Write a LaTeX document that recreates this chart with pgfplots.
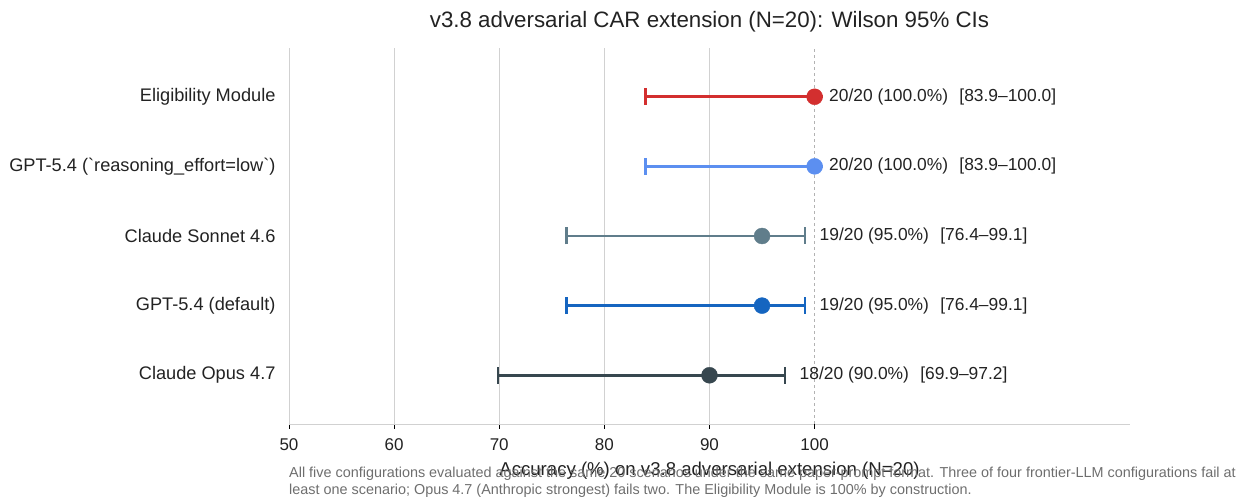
\documentclass[border=0pt]{standalone}
\usepackage{fontspec}
\setmainfont{Liberation Sans}
\usepackage{pgfplots}
\pgfplotsset{compat=1.18}
\definecolor{cred}{HTML}{D32F2F}
\definecolor{clblue}{HTML}{5C8FF0}
\definecolor{cslate}{HTML}{607D8B}
\definecolor{cblue}{HTML}{1565C0}
\definecolor{cdark}{HTML}{37474F}
\definecolor{ctext}{HTML}{222222}
\definecolor{cfoot}{HTML}{6E6E6E}
\pgfplotsset{
  ci/.style={only marks, solid, mark=*, mark size=8pt, color=#1, mark options={solid, fill=#1, draw=#1},
    error bars/.cd, x dir=both, x explicit, error mark=|,
    error bar style={solid, line width=2.8pt, color=#1},
    error mark options={solid, line width=2.6pt, mark size=8.5pt, color=#1}},
  lab/.style={draw=none, mark=none, only marks, nodes near coords={#1},
    nodes near coords style={anchor=west, xshift=11pt, font=\fontsize{17.4}{20}\selectfont, text=ctext}}
}
\begin{document}
\begin{tikzpicture}
\useasboundingbox (0,0) rectangle (1245pt,497pt);
\begin{axis}[
  at={(289pt,73pt)}, anchor=south west,
  scale only axis, width=841pt, height=376pt,
  xmin=50, xmax=130, ymin=-0.7, ymax=4.7,
  axis x line*=bottom, axis y line*=left,
  axis line style={draw=black!18, line width=0.9pt},
  xtick={50,60,70,80,90}, extra x ticks={100},
  extra x tick style={grid style={draw=black!30, dashed, line width=0.9pt}},
  xmajorgrids, grid style={draw=black!18, line width=0.9pt},
  tick align=outside, major tick length=5pt,
  xtick style={draw=black, line width=0.9pt},
  ytick={0,1,2,3,4},
  yticklabels={Claude Opus 4.7, GPT-5.4 (default), Claude Sonnet 4.6,
    GPT-5.4 (\textasciigrave reasoning\_effort=low\textasciigrave), Eligibility Module},
  ytick style={draw=none},
  yticklabel style={font=\fontsize{18.2}{21}\selectfont, text=ctext, xshift=-5pt},
  xticklabel style={font=\fontsize{17}{20}\selectfont, text=ctext, anchor=base, yshift=-22pt},
  /pgf/number format/assume math mode=true,
  title={v3.8 adversarial CAR extension (N=20): Wilson 95\% CIs},
  title style={font=\fontsize{22.3}{26}\selectfont, text=ctext, at={(axis description cs:0.5,1)}, anchor=base, yshift=14pt},
  xlabel={Accuracy (\%) on v3.8 adversarial extension (N=20)},
  xlabel style={font=\fontsize{18.6}{21}\selectfont, text=ctext, at={(axis description cs:0.5,0)}, anchor=base, yshift=-52pt},
  clip=false,
]
% Eligibility Module: 100.0 [83.9, 100.0]
\addplot[ci=cred] coordinates {(100,4) += (0,0) -= (16.1,0)};
\addplot[lab={20/20 (100.0\%)\hspace{0.65em}[83.9--100.0]}] coordinates {(100,4)};
% GPT-5.4 low: 100.0 [83.9, 100.0]
\addplot[ci=clblue] coordinates {(100,3) += (0,0) -= (16.1,0)};
\addplot[lab={20/20 (100.0\%)\hspace{0.65em}[83.9--100.0]}] coordinates {(100,3)};
% Claude Sonnet 4.6: 95.0 [76.4, 99.1]
\addplot[ci=cslate] coordinates {(95,2) += (4.1,0) -= (18.6,0)};
\addplot[lab={19/20 (95.0\%)\hspace{0.65em}[76.4--99.1]}] coordinates {(99.1,2)};
% GPT-5.4 default: 95.0 [76.4, 99.1]
\addplot[ci=cblue] coordinates {(95,1) += (4.1,0) -= (18.6,0)};
\addplot[lab={19/20 (95.0\%)\hspace{0.65em}[76.4--99.1]}] coordinates {(99.1,1)};
% Claude Opus 4.7: 90.0 [69.9, 97.2]
\addplot[ci=cdark] coordinates {(90,0) += (7.2,0) -= (20.1,0)};
\addplot[lab={18/20 (90.0\%)\hspace{0.65em}[69.9--97.2]}] coordinates {(97.2,0)};
\end{axis}
\node[anchor=base west, font=\fontsize{14.4}{17}\selectfont, text=cfoot, inner sep=0pt] at (289pt,19pt)
  {All five configurations evaluated against the same 20 scenarios under the same paper-prompt format. Three of four frontier-LLM configurations fail at};
\node[anchor=base west, font=\fontsize{14.4}{17}\selectfont, text=cfoot, inner sep=0pt] at (289pt,2.5pt)
  {least one scenario; Opus 4.7 (Anthropic strongest) fails two. The Eligibility Module is 100\% by construction.};
\end{tikzpicture}
\end{document}
